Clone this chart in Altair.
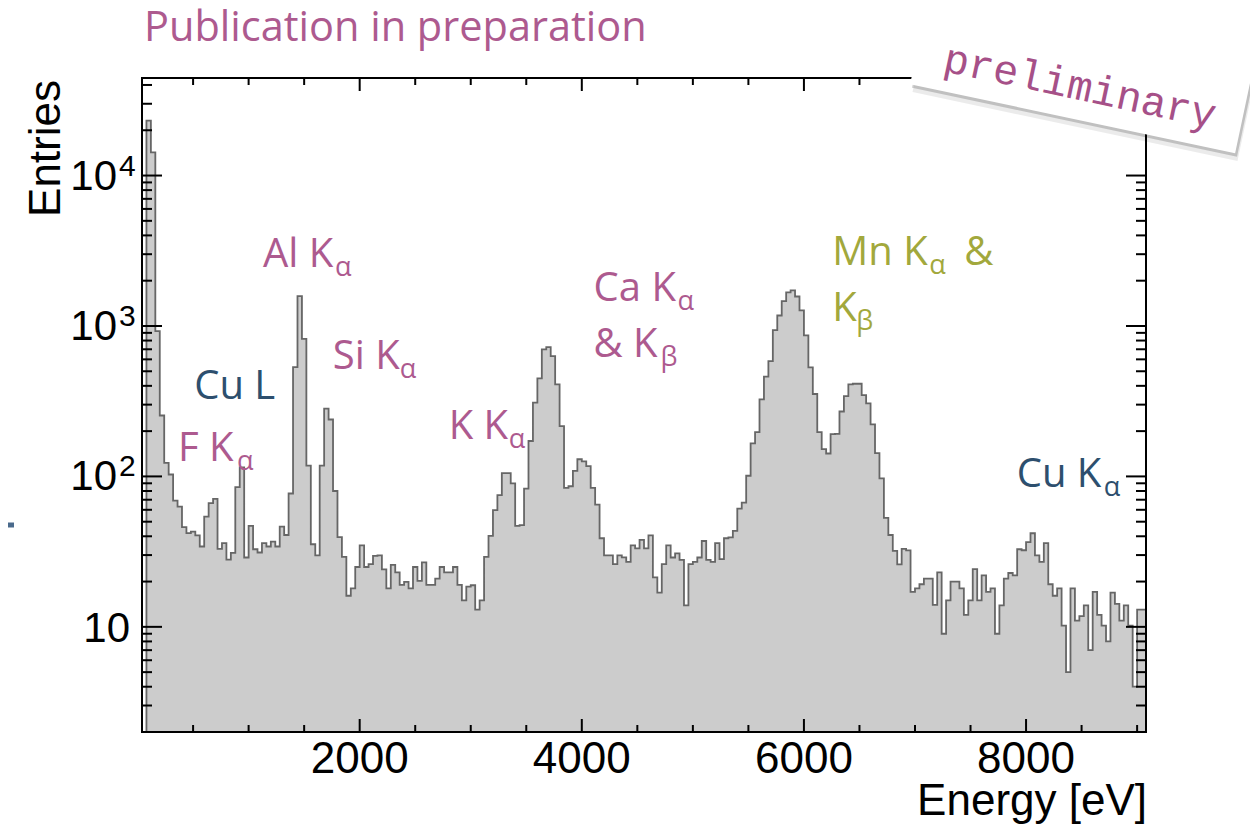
import altair as alt
import pandas as pd

# ---------------- data ----------------
bin_width = 40
first_edge = 80
counts = [
    # 80 .. 1840 eV
    23200, 14250, 923, 254, 123, 103, 69, 63, 46, 42, 43, 40.6, 34.2, 54, 66.5, 71, 33, 36, 28, 31,
    85, 115, 28.9, 46.9, 32.8, 31.2, 36, 34.2, 36.9, 34.2, 46.4, 40.8, 77, 532, 1578, 822, 118, 35.4,
    29.9, 118, 282, 239, 80, 39.5, 29.2,
    # 1880 .. 4400 eV
    16.1, 18.0, 25.0, 34.8, 25.0, 26.1, 29.6, 29.9, 24.1, 18.0, 25.8, 23.0, 19.0, 19.9, 18.0, 25.0,
    20.2, 26.8, 19.0, 19.0, 20.9, 25.0, 23.0, 23.0, 25.0, 19.0, 15.0, 18.5, 18.9, 13.0, 15.0, 29.2,
    40.2, 59.6, 75, 105, 105, 90, 46.9, 47.5, 83, 172, 309, 448, 698, 723, 630, 409, 216, 84, 86, 109,
    130, 126, 117, 84, 65, 38.8, 29.9, 29.9, 26.1, 29.9, 29.0, 27.0,
    # 4440 .. 5440 eV
    34.8, 33.2, 37.8, 33.2, 40.6, 21.3, 16.9, 26.1, 34.8, 28.9, 30.8, 27.9, 13.9, 26.1, 27.0, 28.9,
    37.2, 27.9, 27.0, 36.0, 28.2, 38.8, 39.3, 43.4, 61, 67,
    # 5480 .. 6840 eV
    101, 166, 197, 325, 460, 584, 938, 1174, 1462, 1670, 1725, 1570, 1268, 865, 530, 353, 197, 152,
    142, 191, 192, 270, 342, 409, 413, 413, 347, 306, 222, 143, 97, 53, 40.8, 32, 26,
    # 6880 .. 9040 eV
    33, 32.2, 17.1, 18.0, 19.2, 20.9, 20.9, 14.0, 23.0, 9.0, 15.0, 20.0, 20.0, 18.0, 12.0, 15.0, 24.2,
    15.0, 22.0, 17.1, 18.0, 9.0, 13.9, 20.9, 22.8, 22.0, 32.8, 32.3, 36.6, 41.9, 29.9, 27.0, 36.0,
    19.2, 16.1, 18.0, 10.2, 5.0, 18.0, 11.0, 11.8, 13.9, 7.0, 17.1, 12.0, 10.2, 8.0, 16.9, 14.2, 11.0,
    13.9, 10.2, 4.0, 13.0, 13.0,
]
edges = [first_edge + bin_width * i for i in range(len(counts))]
last_edge = edges[-1] + bin_width

x_domain = [40, 9080]
y_domain = [2, 44500]

x_major = [2000, 4000, 6000, 8000]
x_major_labels = ["2000", "4000", "6000", "8000"]
x_minor = [500, 1000, 1500, 2500, 3000, 3500, 4500, 5000, 5500, 6500, 7000, 7500, 8500, 9000]
y_major = [10, 100, 1000, 10000]
y_major_sup = ["", "2", "3", "4"]
y_minor = [3, 4, 5, 6, 7, 8, 9,
           20, 30, 40, 50, 60, 70, 80, 90,
           200, 300, 400, 500, 600, 700, 800, 900,
           2000, 3000, 4000, 5000, 6000, 7000, 8000, 9000,
           20000, 30000, 40000]

# annotations (anchor in data coordinates: energy [eV], entries)
ann_text = ["Al K", "Si K", "K K", "Ca K", "& K", "Mn K", "K", "Cu L", "F K", "Cu K"]
ann_sub = ["α", "α", "α", "α", "β", "α", "β", "", "α", "α"]
ann_E = [1130, 1758, 2801, 4106, 4106, 6256, 6256, 510, 364, 7916]
ann_N = [2480, 515, 176, 1472, 625, 2541, 1084, 328, 127, 84.6]
ann_kind = ["pink", "pink", "pink", "pink", "pink", "olive", "olive", "blue", "pink", "blue"]

# ---------------- styles ----------------
W, H = 1004, 654
PINK = "#ad5a8f"
OLIVE = "#a2a83c"
BLUE = "#2d4f6e"
colors = {"pink": PINK, "olive": OLIVE, "blue": BLUE}
sub_dx = [72, 67, 60, 84, 67, 97, 24, 0, 59, 87]
SANS = "Liberation Sans"
ANN = "Open Sans"

xs = alt.Scale(domain=x_domain, nice=False, zero=False)
ys = alt.Scale(type="log", domain=y_domain, nice=False)

def X(field):
    return alt.X(field, type="quantitative", scale=xs, axis=None)

def Y(field):
    return alt.Y(field, type="quantitative", scale=ys, axis=None)

one = pd.DataFrame({"a": [0]})

# ---------------- histogram ----------------
hist_df = pd.DataFrame({"E": edges + [last_edge], "N": counts + [counts[-1]]})
line_df = pd.DataFrame({
    "E": [edges[0]] + edges + [last_edge],
    "N": [y_domain[0]] + counts + [counts[-1]],
})
line_df["i"] = range(len(line_df))

area = alt.Chart(hist_df).mark_area(interpolate="step-after", color="#cccccc").encode(
    x=X("E"), y=alt.Y("N", type="quantitative", scale=ys, axis=None, stack=None),
    y2=alt.datum(y_domain[0]),
)
outline = alt.Chart(line_df).mark_line(
    interpolate="step-after", color="#666666", strokeWidth=1.8
).encode(x=X("E"), y=Y("N"), order=alt.Order("i:Q"))

layers = [area, outline]

# ---------------- ticks ----------------
def xticks(vals, length):
    df = pd.DataFrame({"E": vals})
    bottom = alt.Chart(df).mark_rule(color="black", strokeWidth=2).encode(
        x=X("E"), y=alt.value(H), y2=alt.value(H - length))
    top = alt.Chart(df).mark_rule(color="black", strokeWidth=2).encode(
        x=X("E"), y=alt.value(0), y2=alt.value(length))
    return [bottom, top]

def yticks(vals, length):
    df = pd.DataFrame({"N": vals})
    left = alt.Chart(df).mark_rule(color="black", strokeWidth=2).encode(
        y=Y("N"), x=alt.value(0), x2=alt.value(length))
    right = alt.Chart(df).mark_rule(color="black", strokeWidth=2).encode(
        y=Y("N"), x=alt.value(W), x2=alt.value(W - length))
    return [left, right]

layers += xticks(x_major, 13) + xticks(x_minor, 7) + yticks(y_major, 20) + yticks(y_minor, 10)

# frame
frame_style = dict(color="black", strokeWidth=2, strokeCap="square")
layers += [
    alt.Chart(one).mark_rule(**frame_style).encode(x=alt.value(0), x2=alt.value(W), y=alt.value(0)),
    alt.Chart(one).mark_rule(**frame_style).encode(x=alt.value(0), x2=alt.value(W), y=alt.value(H)),
    alt.Chart(one).mark_rule(**frame_style).encode(y=alt.value(0), y2=alt.value(H), x=alt.value(0)),
    alt.Chart(one).mark_rule(**frame_style).encode(y=alt.value(0), y2=alt.value(H), x=alt.value(W)),
]

# ---------------- tick labels ----------------
xl_df = pd.DataFrame({"E": x_major, "lab": x_major_labels})
layers.append(alt.Chart(xl_df).mark_text(
    font=SANS, fontSize=44, align="center", baseline="alphabetic", color="black"
).encode(x=X("E"), y=alt.value(H + 41), text="lab:N"))

yl_df = pd.DataFrame({"N": y_major, "sup": y_major_sup})
plain = yl_df[yl_df["sup"] == ""]
supd = yl_df[yl_df["sup"] != ""]
layers.append(alt.Chart(plain).mark_text(
    font=SANS, fontSize=42, align="right", baseline="alphabetic", dy=15, color="black"
).encode(y=Y("N"), x=alt.value(-12), text=alt.value("10")))
layers.append(alt.Chart(supd).mark_text(
    font=SANS, fontSize=42, align="right", baseline="alphabetic", dy=14, color="black"
).encode(y=Y("N"), x=alt.value(-25), text=alt.value("10")))
layers.append(alt.Chart(supd).mark_text(
    font=SANS, fontSize=30, align="left", baseline="alphabetic", dy=0, color="black"
).encode(y=Y("N"), x=alt.value(-23), text="sup:N"))

# axis titles
layers.append(alt.Chart(one).mark_text(
    text="Energy [eV]", font=SANS, fontSize=44, align="right", baseline="alphabetic", color="black"
).encode(x=alt.value(W + 1), y=alt.value(H + 83)))
layers.append(alt.Chart(one).mark_text(
    text="Entries", font=SANS, fontSize=44, align="right", baseline="alphabetic", angle=270,
    color="black"
).encode(x=alt.value(-82), y=alt.value(2)))

# ---------------- annotations ----------------
for t, s, e, n, k, d in zip(ann_text, ann_sub, ann_E, ann_N, ann_kind, sub_dx):
    df = pd.DataFrame({"E": [e], "N": [n], "t": [t], "s": [s]})
    layers.append(alt.Chart(df).mark_text(
        font=ANN, fontSize=40, align="left", baseline="alphabetic", color=colors[k]
    ).encode(x=X("E"), y=Y("N"), text="t:N"))
    if s:
        layers.append(alt.Chart(df).mark_text(
            font=ANN, fontSize=27, align="left", baseline="alphabetic", color=colors[k], dx=d, dy=9
        ).encode(x=X("E"), y=Y("N"), text="s:N"))

# trailing "&" of "Mn Kα &"
amp_df = pd.DataFrame({"E": [ann_E[5]], "N": [ann_N[5]], "t": ["&"]})
layers.append(alt.Chart(amp_df).mark_text(
    font=ANN, fontSize=40, align="left", baseline="alphabetic", color=OLIVE, dx=132
).encode(x=X("E"), y=Y("N"), text="t:N"))

# header
layers.append(alt.Chart(one).mark_text(
    text="Publication in preparation", font=ANN, fontSize=41.5, align="left",
    baseline="alphabetic", color=PINK
).encode(x=alt.value(2), y=alt.value(-37)))

# cropped remnant on the far left
layers.append(alt.Chart(one).mark_rule(color="#4a6a8c", strokeWidth=5).encode(
    x=alt.value(-134), x2=alt.value(-128), y=alt.value(447)))

# "preliminary" sticker
layers += [
    alt.Chart(one).mark_rule(color="#000000", opacity=0.08, strokeWidth=82, strokeCap="butt").encode(
        x=alt.value(779), x2=alt.value(1104), y=alt.value(-26), y2=alt.value(43)),
    alt.Chart(one).mark_rule(color="#000000", opacity=0.18, strokeWidth=77, strokeCap="butt").encode(
        x=alt.value(778), x2=alt.value(1103), y=alt.value(-28), y2=alt.value(41)),
    alt.Chart(one).mark_rule(color="#ffffff", strokeWidth=76, strokeCap="butt").encode(
        x=alt.value(776), x2=alt.value(1101), y=alt.value(-31), y2=alt.value(38)),
    alt.Chart(one).mark_text(
        text="preliminary", font="Liberation Mono", fontSize=42, align="center",
        baseline="middle", angle=12, color="#a65088"
    ).encode(x=alt.value(938), y=alt.value(9)),
]

chart = alt.layer(*layers).properties(
    width=W, height=H,
    autosize=alt.AutoSizeParams(type="none"),
    padding={"left": 134, "top": 70, "right": 104, "bottom": 93},
).configure_view(strokeOpacity=0)

chart.save("out.html", embed_options={"renderer": "svg", "actions": False})
